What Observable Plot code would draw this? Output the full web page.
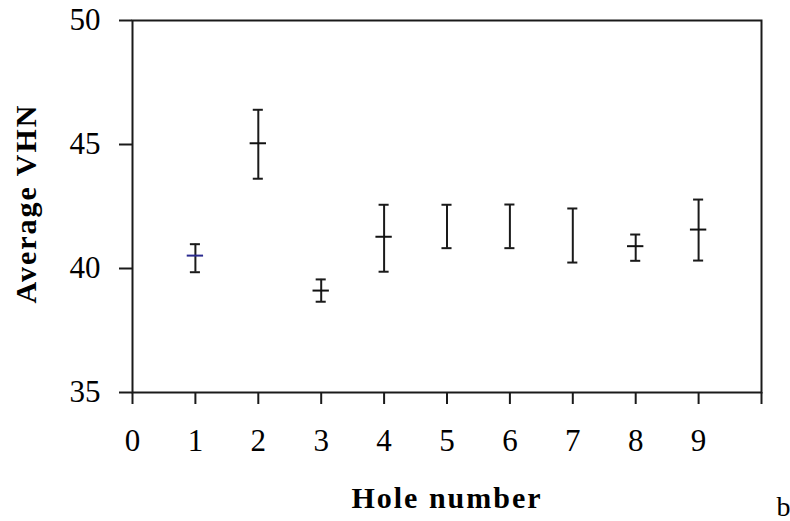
<!DOCTYPE html>
<html>
<head>
<meta charset="utf-8">
<script src="https://cdn.jsdelivr.net/npm/d3@7"></script>
<script src="https://cdn.jsdelivr.net/npm/@observablehq/plot@0.6"></script>
<style>
  html, body { margin: 0; padding: 0; background: #fff; }
  svg text { font-family: "Liberation Serif", "Times New Roman", serif; }
</style>
</head>
<body>
<div id="chart"></div>
<script>
// Data
const holes = [1, 2, 3, 4, 5, 6, 7, 8, 9];
const means = [40.52, 45.05, 39.11, 41.28, null, null, null, 40.9, 41.57];
const upper = [40.98, 46.4, 39.56, 42.57, 42.57, 42.58, 42.42, 41.37, 42.78];
const lower = [39.85, 43.62, 38.66, 39.87, 40.82, 40.82, 40.24, 40.31, 40.32];
const meanColors = ["#2b2b8f", "#111", "#111", "#111", "#111", "#111", "#111", "#111", "#111"];

const xTicks = [0, 1, 2, 3, 4, 5, 6, 7, 8, 9, 10];
const xTickLabels = ["0", "1", "2", "3", "4", "5", "6", "7", "8", "9", ""];
const yTicks = [35, 40, 45, 50];
const xTitle = "Hole number";
const yTitle = "Average VHN";
const corner = "b";

const rows = holes.map((h, i) => ({hole: h, mean: means[i], upper: upper[i], lower: lower[i], color: meanColors[i]}));
const meanRows = rows.filter(d => d.mean != null);

const capHalf = 0.08;   // cap half-width in x units
const meanHalf = 0.13;  // mean marker half-width in x units

const ink = "#1a1a1a";
const serif = "Liberation Serif";

const chart = Plot.plot({
  width: 790,
  height: 521,
  marginLeft: 132,
  marginRight: 29,
  marginTop: 20,
  marginBottom: 129,
  style: {fontFamily: serif, fontSize: "30px", color: "#000", background: "#fff"},
  x: {domain: [0, 10]},
  y: {domain: [35, 50]},
  marks: [
    Plot.frame({stroke: ink, strokeWidth: 2}),
    Plot.axisY({ticks: yTicks, tickSize: 13, tickPadding: 19, label: null, stroke: ink, strokeWidth: 2, fontSize: 31, fontFamily: serif}),
    Plot.axisX({ticks: xTicks, tickSize: 12, tickPadding: 24, label: null, stroke: ink, strokeWidth: 2, fontSize: 31, fontFamily: serif,
      tickFormat: (d) => xTickLabels[xTicks.indexOf(d)]}),
    // error bars
    Plot.ruleX(rows, {x: "hole", y1: "lower", y2: "upper", stroke: ink, strokeWidth: 2}),
    Plot.ruleY(rows, {y: "upper", x1: d => d.hole - capHalf, x2: d => d.hole + capHalf, stroke: ink, strokeWidth: 2}),
    Plot.ruleY(rows, {y: "lower", x1: d => d.hole - capHalf, x2: d => d.hole + capHalf, stroke: ink, strokeWidth: 2}),
    Plot.ruleY(meanRows, {y: "mean", x1: d => d.hole - meanHalf, x2: d => d.hole + meanHalf, stroke: "color", strokeWidth: 2}),
    // titles
    Plot.text([xTitle], {frameAnchor: "bottom", dy: 106, lineAnchor: "middle", fontWeight: "bold", fontSize: 30, fontFamily: serif, fill: "#000", className: "xtitle"}),
    Plot.text([yTitle], {frameAnchor: "left", dx: -106, dy: -3, rotate: -90, lineAnchor: "middle", textAnchor: "middle", fontWeight: "bold", fontSize: 30, fontFamily: serif, fill: "#000", className: "ytitle"}),
    Plot.text([corner], {frameAnchor: "bottom-right", dx: 15, dy: 115, textAnchor: "start", lineAnchor: "middle", fontSize: 28, fontFamily: serif, fill: "#000"})
  ]
});
d3.select(chart).selectAll("g.xtitle text, g.ytitle text").attr("letter-spacing", "2px");
document.getElementById("chart").appendChild(chart);
</script>
</body>
</html>
